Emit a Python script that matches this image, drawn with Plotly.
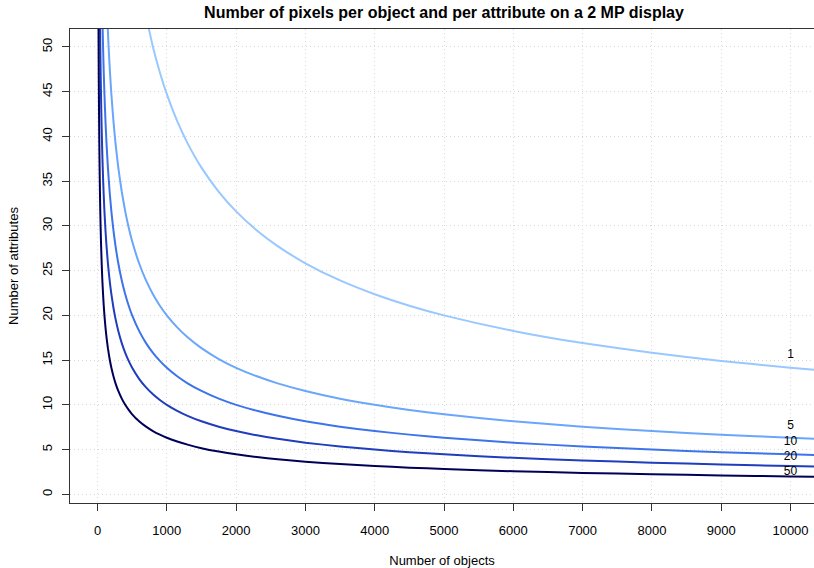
import plotly.graph_objects as go

# Curve values (number of attributes vs number of objects)
x_1 = [700, 800, 900, 1000, 1150, 1300, 1500, 1750, 2000, 2300, 2600, 3000, 3500, 4000, 4500, 5000, 6000, 7000, 8000, 9000, 10000, 10400]
y_1 = [53.45, 50.0, 47.14, 44.72, 41.70, 39.22, 36.51, 33.81, 31.62, 29.49, 27.74, 25.82, 23.90, 22.36, 21.08, 20.0, 18.26, 16.90, 15.81, 14.91, 14.14, 13.87]

x_5 = [140, 160, 180, 200, 230, 260, 300, 350, 400, 450, 500, 600, 700, 800, 900, 1000, 1150, 1300, 1500, 1750, 2000, 2300, 2600, 3000, 3500, 4000, 4500, 5000, 6000, 7000, 8000, 9000, 10000, 10400]
y_5 = [53.45, 50.0, 47.14, 44.72, 41.70, 39.22, 36.51, 33.81, 31.62, 29.81, 28.28, 25.82, 23.90, 22.36, 21.08, 20.0, 18.65, 17.54, 16.33, 15.12, 14.14, 13.19, 12.40, 11.55, 10.69, 10.0, 9.43, 8.94, 8.16, 7.56, 7.07, 6.67, 6.32, 6.20]

x_10 = [70, 80, 90, 100, 115, 130, 150, 175, 200, 230, 260, 300, 350, 400, 450, 500, 600, 700, 800, 900, 1000, 1150, 1300, 1500, 1750, 2000, 2300, 2600, 3000, 3500, 4000, 4500, 5000, 6000, 7000, 8000, 9000, 10000, 10400]
y_10 = [53.45, 50.0, 47.14, 44.72, 41.70, 39.22, 36.51, 33.81, 31.62, 29.49, 27.74, 25.82, 23.90, 22.36, 21.08, 20.0, 18.26, 16.90, 15.81, 14.91, 14.14, 13.19, 12.40, 11.55, 10.69, 10.0, 9.33, 8.77, 8.16, 7.56, 7.07, 6.67, 6.32, 5.77, 5.35, 5.0, 4.71, 4.47, 4.39]

x_20 = [35, 40, 45, 50, 60, 70, 80, 90, 100, 115, 130, 150, 175, 200, 230, 260, 300, 350, 400, 450, 500, 600, 700, 800, 900, 1000, 1150, 1300, 1500, 1750, 2000, 2300, 2600, 3000, 3500, 4000, 4500, 5000, 6000, 7000, 8000, 9000, 10000, 10400]
y_20 = [53.45, 50.0, 47.14, 44.72, 40.82, 37.80, 35.36, 33.33, 31.62, 29.49, 27.74, 25.82, 23.90, 22.36, 20.85, 19.61, 18.26, 16.90, 15.81, 14.91, 14.14, 12.91, 11.95, 11.18, 10.54, 10.0, 9.33, 8.77, 8.16, 7.56, 7.07, 6.59, 6.20, 5.77, 5.35, 5.0, 4.71, 4.47, 4.08, 3.78, 3.54, 3.33, 3.16, 3.10]

x_50 = [14, 16, 18, 20, 23, 26, 30, 35, 40, 45, 50, 60, 70, 80, 90, 100, 115, 130, 150, 175, 200, 230, 260, 300, 350, 400, 450, 500, 600, 700, 800, 900, 1000, 1150, 1300, 1500, 1750, 2000, 2300, 2600, 3000, 3500, 4000, 4500, 5000, 6000, 7000, 8000, 9000, 10000, 10400]
y_50 = [53.45, 50.0, 47.14, 44.72, 41.70, 39.22, 36.51, 33.81, 31.62, 29.81, 28.28, 25.82, 23.90, 22.36, 21.08, 20.0, 18.65, 17.54, 16.33, 15.12, 14.14, 13.19, 12.40, 11.55, 10.69, 10.0, 9.43, 8.94, 8.16, 7.56, 7.07, 6.67, 6.32, 5.90, 5.55, 5.16, 4.78, 4.47, 4.17, 3.92, 3.65, 3.38, 3.16, 2.98, 2.83, 2.58, 2.39, 2.24, 2.11, 2.0, 1.96]

series_names = ["1", "5", "10", "20", "50"]
series_x = [x_1, x_5, x_10, x_20, x_50]
series_y = [y_1, y_5, y_10, y_20, y_50]
series_colors = ["#99c8ff", "#6aa6fb", "#3d74ec", "#1f3dbd", "#000058"]

label_x = [10000, 10000, 10000, 10000, 10000]
label_y = [15.6, 7.6, 5.8, 4.2, 2.55]

x_ticks = [0, 1000, 2000, 3000, 4000, 5000, 6000, 7000, 8000, 9000, 10000]
y_ticks = [0, 5, 10, 15, 20, 25, 30, 35, 40, 45, 50]

fig = go.Figure()
for name, xs, ys, c in zip(series_names, series_x, series_y, series_colors):
    fig.add_trace(go.Scatter(x=xs, y=ys, mode="lines", name=name,
                             line=dict(color=c, width=2, shape="spline", smoothing=0.5),
                             cliponaxis=True, showlegend=False))

fig.add_trace(go.Scatter(x=label_x, y=label_y, mode="text", text=series_names,
                         textposition="middle center",
                         textfont=dict(family="Liberation Sans", size=12, color="black"),
                         showlegend=False, cliponaxis=False))

font = dict(family="Liberation Sans", size=13, color="black")
fig.update_layout(
    width=814, height=568,
    margin=dict(l=70, r=0, t=29, b=65),
    paper_bgcolor="white", plot_bgcolor="white",
    font=font,
    title=dict(text="<b>Number of pixels per object and per attribute on a 2 MP display</b>",
               x=(70 + 818) / 2 / 814, xanchor="center", y=1 - 12 / 568, yanchor="middle",
               font=dict(family="Liberation Sans", size=16, color="black")),
)
fig.update_xaxes(
    range=[-397, 10339], tickvals=x_ticks, ticktext=[str(v) for v in x_ticks],
    showgrid=True, gridcolor="#d8d8d8", griddash="1px,3px", gridwidth=1,
    zeroline=False, showline=True, linecolor="#333333", linewidth=1, mirror=True,
    ticks="outside", ticklen=7, tickcolor="#333333", ticklabelstandoff=8,
    title=dict(text="Number of objects", standoff=22, font=font),
)
fig.update_yaxes(
    range=[-0.97, 52.0], tickvals=y_ticks, ticktext=[str(v) for v in y_ticks],
    showgrid=True, gridcolor="#d8d8d8", griddash="1px,3px", gridwidth=1,
    zeroline=False, showline=True, linecolor="#333333", linewidth=1,
    ticks="outside", ticklen=7, tickcolor="#333333", tickangle=-90, ticklabelstandoff=5,
    title=dict(text="Number of attributes", standoff=18, font=font),
)

fig.write_html("out.html")
